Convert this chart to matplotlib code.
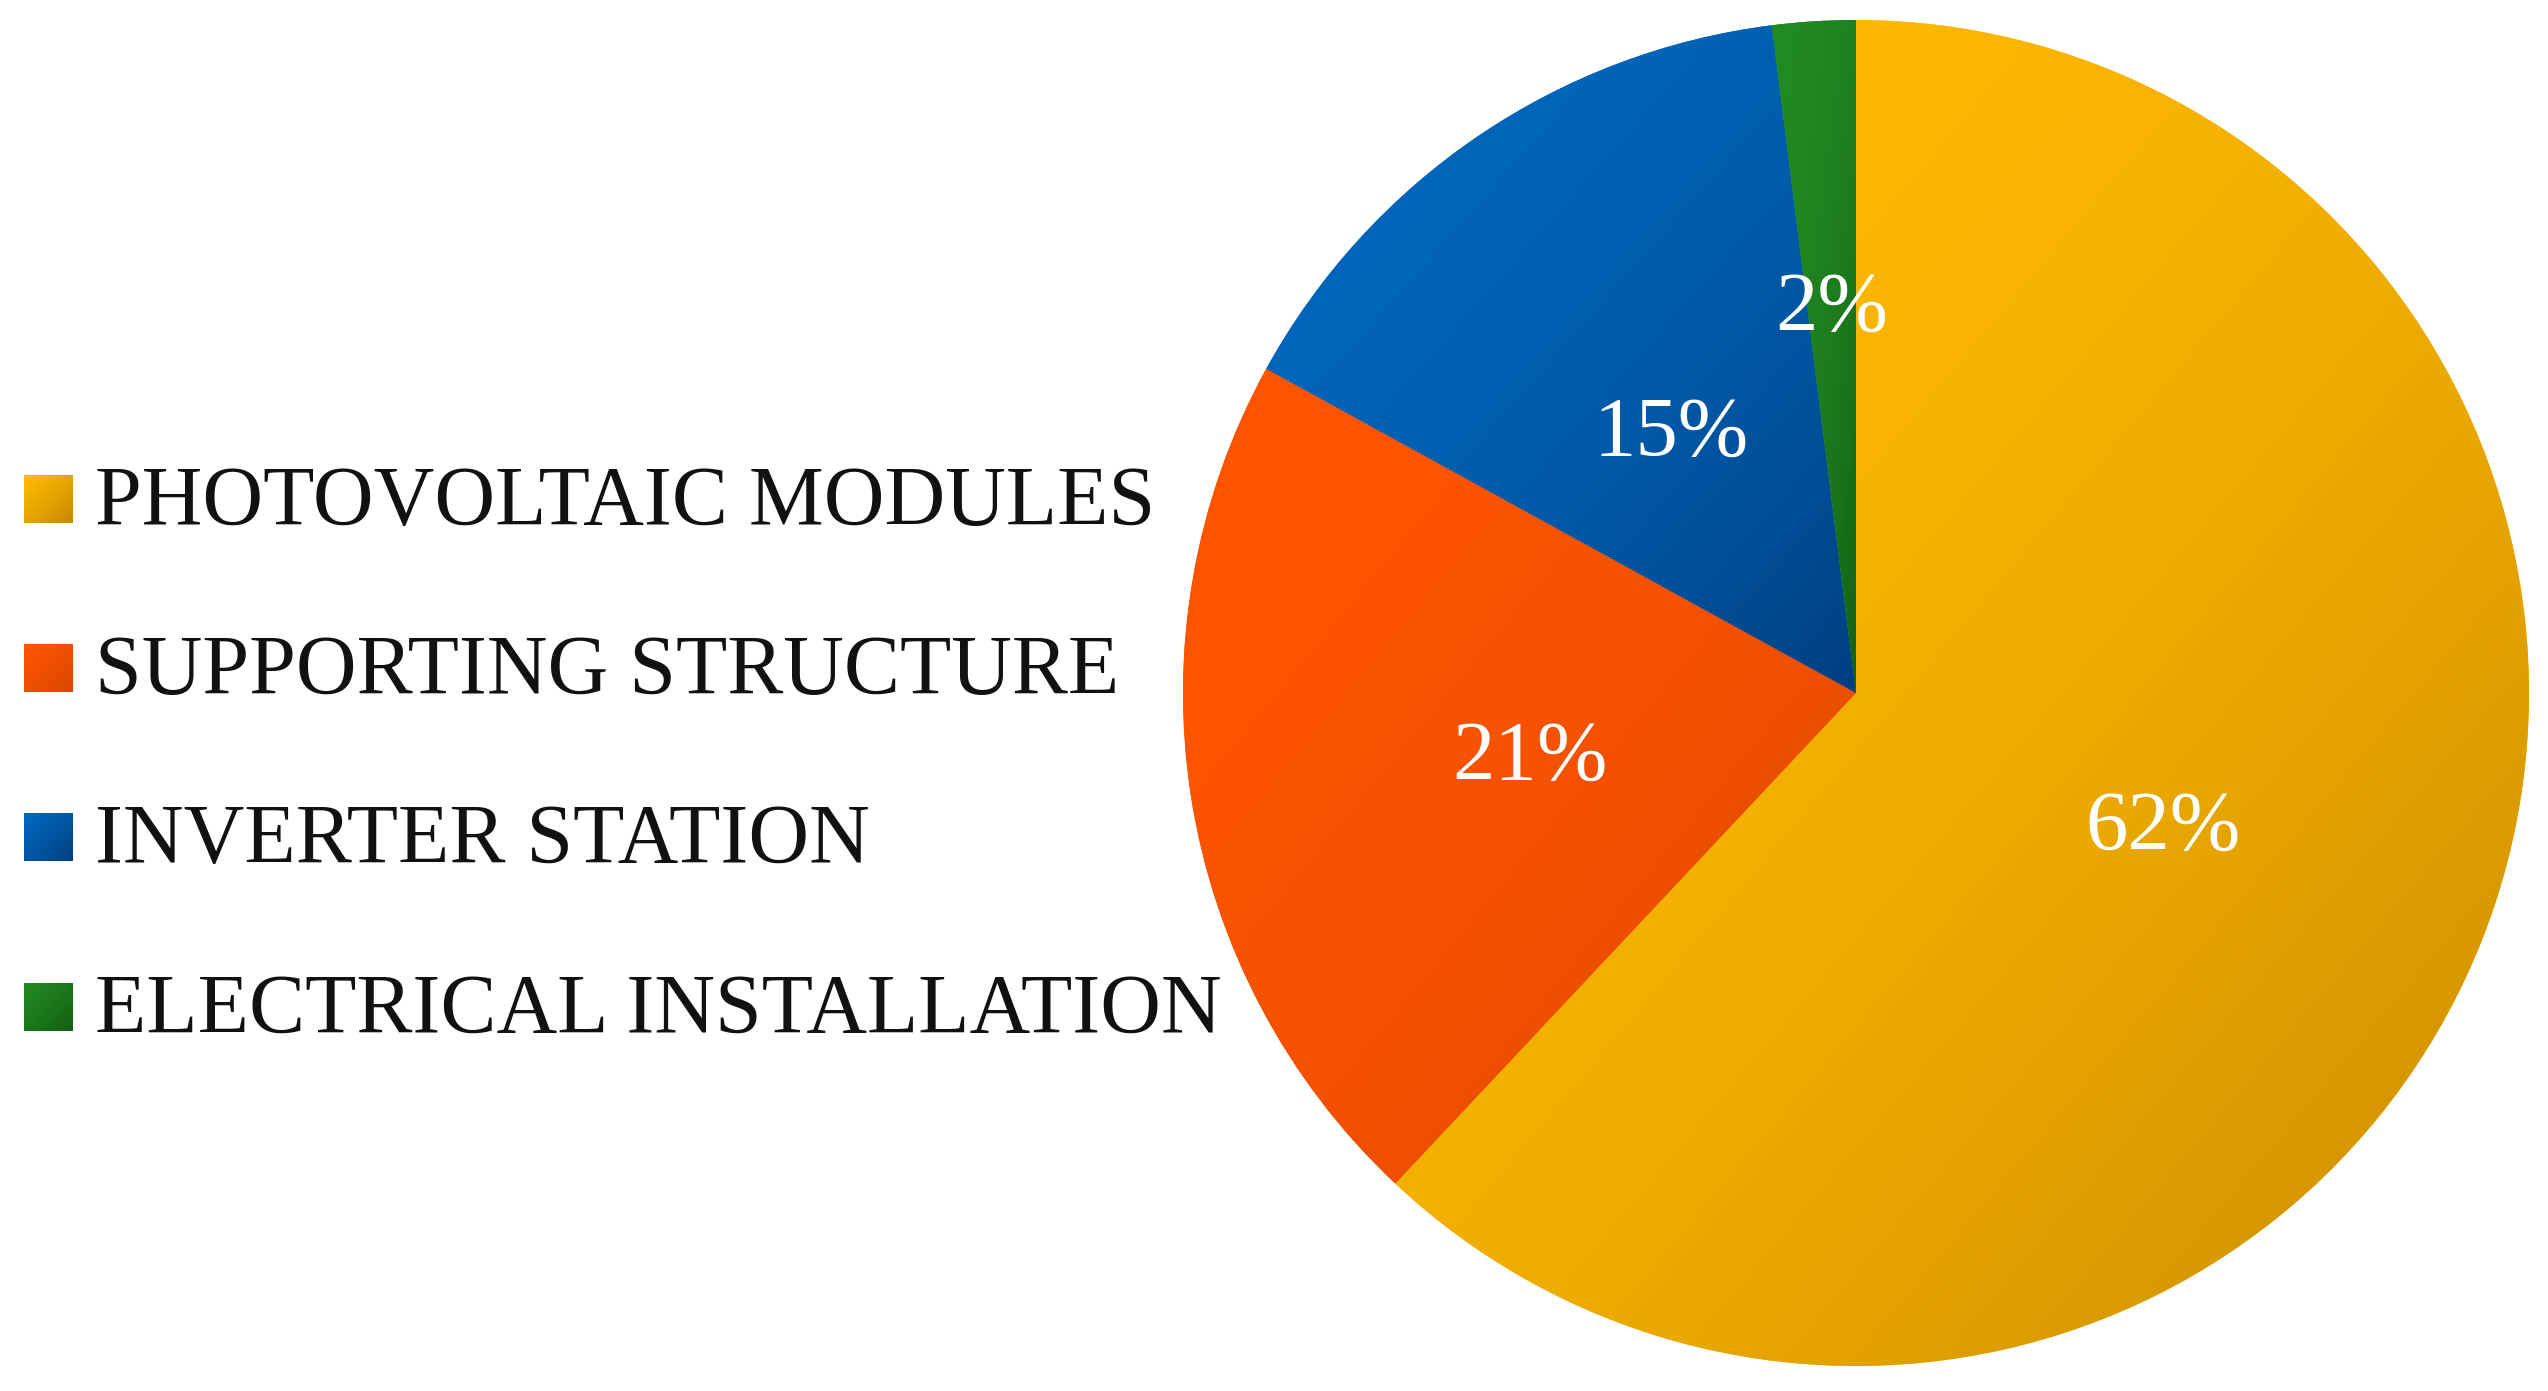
import numpy as np
import matplotlib
matplotlib.use("Agg")
import matplotlib.pyplot as plt
from matplotlib.colors import to_rgb
from matplotlib.patches import Rectangle

categories = ["PHOTOVOLTAIC MODULES", "SUPPORTING STRUCTURE", "INVERTER STATION", "ELECTRICAL INSTALLATION"]
shares = [62, 21, 15, 2]
light_colors = ["#FFBA00", "#FF5500", "#0068BE", "#228A22"]
dark_colors = ["#C68900", "#D84700", "#003F80", "#136013"]

plt.rcParams['font.family'] = ['Liberation Serif', 'DejaVu Serif']

W, H = 2548, 1391
fig = plt.figure(figsize=(W / 100, H / 100), dpi=100)

cx, cy, r = 1856, 693, 673
ax = fig.add_axes([(cx - r) / W, (H - cy - r) / H, 2 * r / W, 2 * r / H])


def gradient_img(c0, c1, n=200, power=2.0):
    c0 = np.array(to_rgb(c0)); c1 = np.array(to_rgb(c1))
    xx, yy = np.meshgrid(np.linspace(0, 1, n), np.linspace(0, 1, n))
    t = ((xx + yy) / 2.0) ** power  # top-left light -> bottom-right dark (row 0 = top)
    return c0[None, None, :] * (1 - t[..., None]) + c1[None, None, :] * t[..., None]


wedges, texts, autotexts = ax.pie(shares, startangle=90, counterclock=False, radius=1,
                                  colors=light_colors, autopct='%1.0f%%', pctdistance=0.49,
                                  wedgeprops=dict(linewidth=0),
                                  textprops=dict(color='white', fontsize=61,
                                                 family=['Liberation Serif', 'DejaVu Serif']))
fig.canvas.draw()
for w, c0, c1 in zip(wedges, light_colors, dark_colors):
    bb = w.get_path().get_extents(w.get_patch_transform())
    im = ax.imshow(gradient_img(c0, c1), extent=[bb.x0, bb.x1, bb.y0, bb.y1],
                   origin='upper', interpolation='bilinear', zorder=w.get_zorder() + 0.1)
    im.set_clip_path(w)

for w, t, s in zip(wedges, autotexts, shares):
    t.set_zorder(10)
    ang = np.deg2rad((w.theta1 + w.theta2) / 2)
    d = 0.57 if s < 5 else 0.49
    t.set_position((d * np.cos(ang), d * np.sin(ang) - (0.0 if s < 5 else 0.022)))

ax.set_xlim(-1, 1)
ax.set_ylim(-1, 1)
ax.set_aspect('equal')
ax.axis('off')

# Legend in pixel coordinates
lax = fig.add_axes([0, 0, 1, 1])
lax.set_xlim(0, W)
lax.set_ylim(H, 0)
lax.axis('off')
lax.patch.set_alpha(0)

baselines = [525, 694, 863, 1033]
for name, c0, c1, yb in zip(categories, light_colors, dark_colors, baselines):
    rect = Rectangle((24, yb - 50), 49, 48, facecolor='none', edgecolor='none')
    lax.add_patch(rect)
    im = lax.imshow(gradient_img(c0, c1, 50, 1.2), extent=[24, 73, yb - 2, yb - 50],
                    origin='upper', interpolation='bilinear')
    im.set_clip_path(rect)
    lax.text(95, yb, name, fontsize=60.5, color='#111111', va='baseline', ha='left')

lax.set_xlim(0, W)
lax.set_ylim(H, 0)
lax.set_aspect('auto')

fig.savefig("out.png", dpi=100, facecolor='white')
